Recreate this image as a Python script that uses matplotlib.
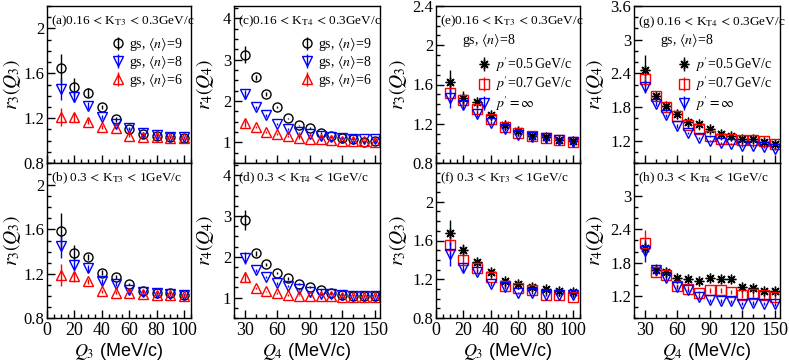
import matplotlib
matplotlib.use("Agg")
import matplotlib.pyplot as plt
from matplotlib.ticker import MultipleLocator, FixedLocator, FormatStrFormatter

plt.rcParams["font.family"] = "serif"
plt.rcParams["font.serif"] = ["Liberation Serif", "DejaVu Serif"]
plt.rcParams["mathtext.fontset"] = "stix"

# ---- data ----
q3 = [10, 20, 30, 40, 50, 60, 70, 80, 90, 100]
q4 = [30, 40, 50, 60, 70, 80, 90, 100, 110, 120, 130, 140, 150]

# (a) r3, 0.16<KT3<0.3, different <n>
a_n9 = [1.645, 1.475, 1.425, 1.30, 1.19, 1.106, 1.055, 1.045, 1.03, 1.02]
a_n9_err = [0.13, 0.08, 0.04, 0.02, 0.02, 0.01, 0.01, 0.01, 0.01, 0.01]
a_n8 = [1.46, 1.39, 1.31, 1.21, 1.15, 1.11, 1.07, 1.05, 1.035, 1.03]
a_n8_err = [0.10, 0.05, 0.03, 0.02, 0.02, 0.01, 0.01, 0.01, 0.01, 0.01]
a_n6 = [1.21, 1.21, 1.17, 1.12, 1.11, 1.045, 1.035, 1.03, 1.025, 1.02]
a_n6_err = [0.08, 0.04, 0.02, 0.02, 0.01, 0.01, 0.01, 0.01, 0.01, 0.01]

# (b) r3, 0.3<KT3<1
b_n9 = [1.59, 1.39, 1.35, 1.21, 1.17, 1.106, 1.04, 1.025, 1.025, 1.01]
b_n9_err = [0.16, 0.07, 0.03, 0.02, 0.02, 0.01, 0.01, 0.01, 0.01, 0.01]
b_n8 = [1.45, 1.28, 1.25, 1.13, 1.106, 1.055, 1.035, 1.025, 1.02, 1.01]
b_n8_err = [0.11, 0.05, 0.03, 0.02, 0.02, 0.01, 0.01, 0.01, 0.01, 0.01]
b_n6 = [1.19, 1.175, 1.13, 1.04, 1.03, 1.03, 1.02, 1.01, 1.01, 0.995]
b_n6_err = [0.10, 0.05, 0.02, 0.01, 0.01, 0.01, 0.01, 0.01, 0.01, 0.01]

# (c) r4, 0.16<KT4<0.3
c_n9 = [3.12, 2.57, 2.17, 1.86, 1.58, 1.41, 1.35, 1.23, 1.15, 1.11, 1.08, 1.01, 1.04]
c_n9_err = [0.2, 0.06, 0.04, 0.03, 0.02, 0.02, 0.02, 0.02, 0.02, 0.02, 0.02, 0.02, 0.02]
c_n8 = [2.16, 1.85, 1.65, 1.44, 1.32, 1.24, 1.19, 1.15, 1.13, 1.10, 1.09, 1.09, 1.07]
c_n8_err = [0.1, 0.04, 0.03, 0.02, 0.02, 0.02, 0.02, 0.02, 0.02, 0.02, 0.02, 0.02, 0.02]
c_n6 = [1.46, 1.37, 1.25, 1.20, 1.15, 1.10, 1.09, 1.07, 1.05, 1.04, 1.04, 1.03, 1.02]
c_n6_err = [0.08, 0.03, 0.02, 0.02, 0.02, 0.02, 0.02, 0.02, 0.02, 0.02, 0.02, 0.02, 0.02]

# (d) r4, 0.3<KT4<1
d_n9 = [2.90, 2.09, 1.82, 1.60, 1.47, 1.33, 1.26, 1.18, 1.11, 1.06, 1.05, 1.04, 1.04]
d_n9_err = [0.25, 0.06, 0.04, 0.03, 0.03, 0.02, 0.02, 0.02, 0.02, 0.02, 0.02, 0.02, 0.02]
d_n8 = [1.98, 1.67, 1.51, 1.35, 1.29, 1.21, 1.13, 1.10, 1.08, 1.06, 1.05, 1.05, 1.05]
d_n8_err = [0.15, 0.04, 0.03, 0.03, 0.02, 0.02, 0.02, 0.02, 0.02, 0.02, 0.02, 0.02, 0.02]
d_n6 = [1.51, 1.23, 1.15, 1.11, 1.07, 1.05, 1.04, 1.03, 1.03, 1.02, 1.02, 1.02, 1.02]
d_n6_err = [0.12, 0.03, 0.02, 0.02, 0.02, 0.02, 0.02, 0.02, 0.02, 0.02, 0.02, 0.02, 0.02]

# (e) r3, 0.16<KT3<0.3, <n>=8, different p'
e_p05 = [1.63, 1.46, 1.42, 1.29, 1.19, 1.13, 1.08, 1.06, 1.03, 1.02]
e_p05_err = [0.12, 0.07, 0.03, 0.02, 0.02, 0.01, 0.01, 0.01, 0.01, 0.01]
e_p07 = [1.51, 1.44, 1.35, 1.25, 1.17, 1.11, 1.08, 1.05, 1.03, 1.01]
e_p07_err = [0.10, 0.05, 0.03, 0.02, 0.02, 0.01, 0.01, 0.01, 0.01, 0.01]
e_pinf = [1.46, 1.39, 1.30, 1.21, 1.15, 1.09, 1.07, 1.05, 1.03, 1.01]
e_pinf_err = [0.10, 0.04, 0.03, 0.02, 0.02, 0.01, 0.01, 0.01, 0.01, 0.01]

# (f) r3, 0.3<KT3<1
f_p05 = [1.68, 1.50, 1.38, 1.27, 1.18, 1.15, 1.12, 1.10, 1.08, 1.07]
f_p05_err = [0.13, 0.06, 0.03, 0.02, 0.02, 0.01, 0.01, 0.01, 0.01, 0.01]
f_p07 = [1.55, 1.40, 1.32, 1.22, 1.13, 1.11, 1.09, 1.04, 1.035, 1.015]
f_p07_err = [0.10, 0.05, 0.03, 0.02, 0.02, 0.01, 0.01, 0.01, 0.01, 0.01]
f_pinf = [1.46, 1.32, 1.28, 1.15, 1.12, 1.06, 1.055, 1.04, 1.035, 1.035]
f_pinf_err = [0.12, 0.04, 0.03, 0.02, 0.02, 0.01, 0.01, 0.01, 0.01, 0.01]

# (g) r4, 0.16<KT4<0.3
g_p05 = [2.46, 1.99, 1.82, 1.68, 1.53, 1.50, 1.40, 1.32, 1.28, 1.23, 1.22, 1.17, 1.14]
g_p05_err = [0.27, 0.06, 0.04, 0.03, 0.03, 0.03, 0.02, 0.02, 0.02, 0.02, 0.02, 0.02, 0.02]
g_p07 = [2.30, 1.99, 1.80, 1.63, 1.47, 1.40, 1.28, 1.23, 1.23, 1.21, 1.21, 1.19, 1.13]
g_p07_err = [0.12, 0.05, 0.04, 0.03, 0.03, 0.02, 0.02, 0.02, 0.02, 0.02, 0.02, 0.02, 0.02]
g_pinf = [2.16, 1.86, 1.65, 1.46, 1.33, 1.24, 1.19, 1.15, 1.14, 1.11, 1.10, 1.09, 1.05]
g_pinf_err = [0.12, 0.04, 0.03, 0.03, 0.02, 0.02, 0.02, 0.02, 0.02, 0.02, 0.02, 0.02, 0.02]

# (h) r4, 0.3<KT4<1
h_p05 = [2.07, 1.67, 1.64, 1.52, 1.50, 1.47, 1.52, 1.51, 1.50, 1.36, 1.35, 1.29, 1.29]
h_p05_err = [0.10, 0.10, 0.06, 0.04, 0.04, 0.04, 0.03, 0.03, 0.03, 0.03, 0.03, 0.03, 0.03]
h_p07 = [2.16, 1.63, 1.58, 1.38, 1.33, 1.25, 1.30, 1.30, 1.27, 1.22, 1.23, 1.21, 1.18]
h_p07_err = [0.23, 0.08, 0.05, 0.04, 0.04, 0.04, 0.04, 0.04, 0.04, 0.05, 0.06, 0.07, 0.10]
h_pinf = [2.01, 1.67, 1.52, 1.36, 1.30, 1.18, 1.12, 1.11, 1.10, 1.06, 1.07, 1.06, 1.05]
h_pinf_err = [0.20, 0.07, 0.05, 0.04, 0.03, 0.03, 0.03, 0.03, 0.03, 0.03, 0.03, 0.03, 0.03]

n_labels = [r"gs, $\langle n\rangle$=9", r"gs, $\langle n\rangle$=8",
            r"gs, $\langle n\rangle$=6"]
p_labels = [r"$p'$=0.5$\,$GeV/c", r"$p'$=0.7$\,$GeV/c", r"$p'=\infty$"]

BLUE = "#0000ff"
RED = "#ff0000"
n_style = [dict(marker="o", color="black", ms=6.5),
           dict(marker="v", color=BLUE, ms=7),
           dict(marker="^", color=RED, ms=7)]
p_style = [dict(marker=(8, 2, 0), color="black", ms=7, mew=1.0),
           dict(marker="s", color=RED, ms=6.5),
           dict(marker="v", color=BLUE, ms=7)]

W, H = 789, 363
fig = plt.figure(figsize=(W / 100, H / 100), dpi=100)

cols = [(47, 191), (234, 380), (436, 580), (634, 780)]
rows = [(6, 163), (163, 318)]


def make_ax(ci, ri):
    x0, x1 = cols[ci]
    y0, y1 = rows[ri]
    return fig.add_axes([x0 / W, 1 - y1 / H, (x1 - x0) / W, (y1 - y0) / H])


def plot_set(ax, x, series, errs, styles, labels):
    for y, e, st, lab in zip(series, errs, styles, labels):
        ax.errorbar(x, y, yerr=e, ls="none", mfc="none", mec=st["color"],
                    ecolor=st["color"], elinewidth=1.0, capsize=0,
                    mew=st.get("mew", 1.0), marker=st["marker"], ms=st["ms"],
                    label=lab)


def style_ax(ax, ci, ri, ylim, ymin_step, yticks):
    ax.set_ylim(*ylim)
    if ci in (0, 2):
        ax.set_xlim(0, 105)
        ax.xaxis.set_major_locator(MultipleLocator(20))
        ax.xaxis.set_minor_locator(MultipleLocator(5))
    else:
        ax.set_xlim(20, 155)
        ax.xaxis.set_major_locator(FixedLocator([30, 60, 90, 120, 150]))
        ax.xaxis.set_minor_locator(MultipleLocator(10))
    ax.yaxis.set_major_locator(FixedLocator(yticks))
    ax.yaxis.set_minor_locator(MultipleLocator(ymin_step))
    ax.yaxis.set_major_formatter(FormatStrFormatter("%g"))
    ax.tick_params(which="both", direction="in", top=False, right=False,
                   labelfontfamily="Liberation Serif")
    ax.tick_params(which="major", length=6, width=1)
    ax.tick_params(which="minor", length=3, width=1)
    ax.tick_params(axis="y", labelsize=12, pad=2)
    ax.tick_params(axis="x", labelsize=13, pad=3)
    for s in ax.spines.values():
        s.set_linewidth(1.0)
    if ri == 0:
        ax.tick_params(axis="x", labelbottom=False)
    else:
        qn = "3" if ci in (0, 2) else "4"
        ax.set_xlabel(rf"$Q_{qn}$ (MeV/c)", fontsize=13,
                      fontfamily="Liberation Sans")
        ax.xaxis.set_label_coords(0.5, -0.15)
    rn = "3" if ci in (0, 2) else "4"
    ax.set_ylabel(rf"$r_{rn}(Q_{rn})$", fontsize=14)
    lx = {0: -0.17, 1: -0.125, 2: -0.19, 3: -0.19}[ci]
    ax.yaxis.set_label_coords(lx, 0.5)


def tag(ax, s, y):
    ax.text(0.03, y, s, transform=ax.transAxes, fontsize=9.5,
            va="center", ha="left")


def leg(ax, y):
    ax.legend(loc="upper right", bbox_to_anchor=(1.0, y), frameon=False,
              fontsize=10, handletextpad=0.2, labelspacing=0.05,
              borderaxespad=0.2, handlelength=1.2)


kt3 = r"K$_{\rm T3}$"
kt4 = r"K$_{\rm T4}$"

# (a)
ax = make_ax(0, 0)
plot_set(ax, q3, [a_n9, a_n8, a_n6], [a_n9_err, a_n8_err, a_n6_err],
         n_style, n_labels)
style_ax(ax, 0, 0, (0.8, 2.2), 0.1, [0.8, 1.2, 1.6, 2.0])
tag(ax, rf"(a)0.16$\,<\,${kt3}$\,<\,$0.3GeV/c", 0.9)
leg(ax, 0.86)

# (b)
ax = make_ax(0, 1)
plot_set(ax, q3, [b_n9, b_n8, b_n6], [b_n9_err, b_n8_err, b_n6_err],
         n_style, n_labels)
style_ax(ax, 0, 1, (0.8, 2.2), 0.1, [0.8, 1.2, 1.6, 2.0])
tag(ax, rf"(b) 0.3$\,<\,${kt3}$\,<\,$1GeV/c", 0.9)

# (c)
ax = make_ax(1, 0)
plot_set(ax, q4, [c_n9, c_n8, c_n6], [c_n9_err, c_n8_err, c_n6_err],
         n_style, n_labels)
style_ax(ax, 1, 0, (0.5, 4.3), 0.25, [1, 2, 3, 4])
tag(ax, rf"(c)0.16$\,<\,${kt4}$\,<\,$0.3GeV/c", 0.9)
leg(ax, 0.86)

# (d)
ax = make_ax(1, 1)
plot_set(ax, q4, [d_n9, d_n8, d_n6], [d_n9_err, d_n8_err, d_n6_err],
         n_style, n_labels)
style_ax(ax, 1, 1, (0.5, 4.3), 0.25, [1, 2, 3, 4])
tag(ax, rf"(d) 0.3$\,<\,${kt4}$\,<\,$1GeV/c", 0.9)

# (e)
ax = make_ax(2, 0)
plot_set(ax, q3, [e_p05, e_p07, e_pinf], [e_p05_err, e_p07_err, e_pinf_err],
         p_style, p_labels)
style_ax(ax, 2, 0, (0.8, 2.4), 0.1, [0.8, 1.2, 1.6, 2.0, 2.4])
tag(ax, rf"(e)0.16$\,<\,${kt3}$\,<\,$0.3GeV/c", 0.9)
ax.text(0.18, 0.78, r"gs, $\langle n\rangle$=8", transform=ax.transAxes,
        fontsize=10, va="center")
leg(ax, 0.74)

# (f)
ax = make_ax(2, 1)
plot_set(ax, q3, [f_p05, f_p07, f_pinf], [f_p05_err, f_p07_err, f_pinf_err],
         p_style, p_labels)
style_ax(ax, 2, 1, (0.8, 2.4), 0.1, [0.8, 1.2, 1.6, 2.0])
tag(ax, rf"(f) 0.3$\,<\,${kt3}$\,<\,$1GeV/c", 0.9)

# (g)
ax = make_ax(3, 0)
plot_set(ax, q4, [g_p05, g_p07, g_pinf], [g_p05_err, g_p07_err, g_pinf_err],
         p_style, p_labels)
style_ax(ax, 3, 0, (0.8, 3.6), 0.2, [1.2, 1.8, 2.4, 3.0, 3.6])
tag(ax, rf"(g) 0.16$\,<\,${kt4}$\,<\,$0.3GeV/c", 0.9)
ax.text(0.18, 0.78, r"gs, $\langle n\rangle$=8", transform=ax.transAxes,
        fontsize=10, va="center")
leg(ax, 0.74)

# (h)
ax = make_ax(3, 1)
plot_set(ax, q4, [h_p05, h_p07, h_pinf], [h_p05_err, h_p07_err, h_pinf_err],
         p_style, p_labels)
style_ax(ax, 3, 1, (0.8, 3.6), 0.2, [1.2, 1.8, 2.4, 3.0])
tag(ax, rf"(h) 0.3$\,<\,${kt4}$\,<\,$1GeV/c", 0.9)

fig.savefig("out.png", dpi=100)
